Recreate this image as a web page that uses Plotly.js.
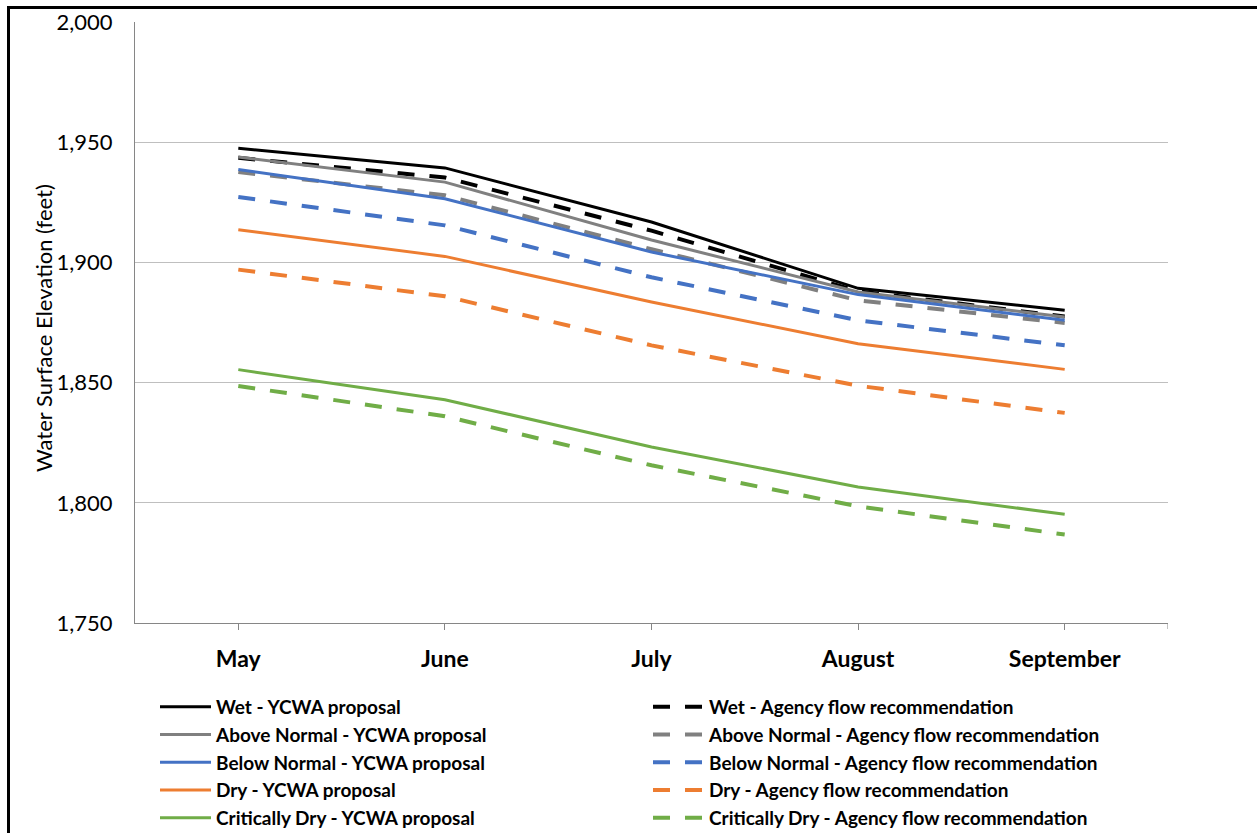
<!DOCTYPE html>
<html>
<head>
<meta charset="utf-8">
<script src="https://cdn.plot.ly/plotly-3.0.1.min.js"></script>
<style>
  html, body { margin: 0; padding: 0; background: #fff; overflow: hidden; }
  #wrap { position: relative; width: 1257px; height: 833px; }
  #chart { position: absolute; left: 0; top: 0; width: 1257px; height: 833px; }
  #frame { position: absolute; left: 7px; top: 6px; width: 1400px; height: 1000px;
           border-left: 3px solid #000; border-top: 3px solid #000; pointer-events: none; }
</style>
</head>
<body>
<div id="wrap"><div id="chart"></div><div id="frame"></div></div>
<script>
const months = ['May', 'June', 'July', 'August', 'September'];
const yAxisTitle = 'Water Surface Elevation (feet)';

const wetYCWA = [1947.5, 1939.3, 1916.8, 1889.2, 1880.1];
const wetAgency = [1943.5, 1935.3, 1913.2, 1888.0, 1877.5];
const aboveNormalYCWA = [1943.8, 1933.4, 1909.3, 1887.7, 1877.3];
const aboveNormalAgency = [1937.6, 1927.9, 1905.5, 1884.2, 1874.8];
const belowNormalYCWA = [1938.6, 1926.5, 1904.3, 1886.6, 1875.9];
const belowNormalAgency = [1927.2, 1915.4, 1893.8, 1875.9, 1865.5];
const dryYCWA = [1913.6, 1902.5, 1883.5, 1866.2, 1855.5];
const dryAgency = [1897.0, 1885.9, 1865.5, 1848.7, 1837.4];
const critDryYCWA = [1855.4, 1842.9, 1823.2, 1806.6, 1795.2];
const critDryAgency = [1848.6, 1836.0, 1815.6, 1798.5, 1786.8];

const seriesNames = [
  'Wet - YCWA proposal', 'Wet - Agency flow recommendation',
  'Above Normal - YCWA proposal', 'Above Normal - Agency flow recommendation',
  'Below Normal - YCWA proposal', 'Below Normal - Agency flow recommendation',
  'Dry - YCWA proposal', 'Dry - Agency flow recommendation',
  'Critically Dry - YCWA proposal', 'Critically Dry - Agency flow recommendation'
];
const seriesValues = [wetYCWA, wetAgency, aboveNormalYCWA, aboveNormalAgency,
  belowNormalYCWA, belowNormalAgency, dryYCWA, dryAgency, critDryYCWA, critDryAgency];
const colors = ['#000000', '#000000', '#808080', '#808080', '#4472C4', '#4472C4',
  '#ED7D31', '#ED7D31', '#70AD47', '#70AD47'];

const traces = seriesNames.map((name, i) => {
  const dashed = i % 2 === 1;
  return {
    type: 'scatter', mode: 'lines', name: name,
    x: months, y: seriesValues[i],
    line: { color: colors[i], width: dashed ? 4 : 3, dash: dashed ? '17px,15px' : 'solid' },
    legend: dashed ? 'legend2' : 'legend',
    hoverinfo: 'x+y+name'
  };
});

const legendFont = { family: 'Lato, sans-serif', size: 19, color: '#000', weight: 'bold' };

const layout = {
  width: 1257, height: 833,
  margin: { l: 135, r: 89, t: 22, b: 210, pad: 0, autoexpand: false },
  paper_bgcolor: '#fff', plot_bgcolor: '#fff',
  showlegend: true,
  xaxis: {
    type: 'category', range: [-0.5, 4.5], automargin: false,
    showline: true, linecolor: '#868686', linewidth: 1,
    ticks: 'outside', ticklen: 6, tickcolor: '#868686', tickwidth: 1,
    showgrid: false, zeroline: false,
    ticklabelstandoff: 9,
    tickfont: { family: 'Lato, sans-serif', size: 23, color: '#000', weight: 'bold' }
  },
  yaxis: {
    range: [1750, 2000], dtick: 50, tick0: 1750, tickformat: ',d', automargin: false,
    showgrid: true, gridcolor: '#BFBFBF', gridwidth: 1,
    showline: true, linecolor: '#868686', linewidth: 1,
    ticks: 'outside', ticklen: 17, tickcolor: 'rgba(0,0,0,0)', zeroline: false,
    tickfont: { family: 'Lato, sans-serif', size: 22, color: '#000' }
  },
  annotations: [
    { text: yAxisTitle, xref: 'paper', yref: 'paper',
      x: (43 - 135) / 1033, y: (623 - 328) / 601, xanchor: 'center', yanchor: 'middle',
      textangle: -90, showarrow: false,
      font: { family: 'Lato, sans-serif', size: 22, color: '#000' } }
  ],
  legend: {
    xref: 'container', yref: 'container',
    x: 155 / 1257, xanchor: 'left', y: 1 - 688 / 833, yanchor: 'top',
    orientation: 'v', bgcolor: 'rgba(0,0,0,0)', borderwidth: 0,
    font: legendFont, itemwidth: 51, traceorder: 'normal'
  },
  legend2: {
    xref: 'container', yref: 'container',
    x: 648 / 1257, xanchor: 'left', y: 1 - 688 / 833, yanchor: 'top',
    orientation: 'v', bgcolor: 'rgba(0,0,0,0)', borderwidth: 0,
    font: legendFont, itemwidth: 51, traceorder: 'normal'
  },
  shapes: [
    { type: 'line', xref: 'x', yref: 'paper', x0: 4.5, x1: 4.5, y0: 0, y1: -6 / 601,
      line: { color: '#868686', width: 1 } }
  ]
};

Plotly.newPlot('chart', traces, layout, { displayModeBar: false, staticPlot: true });
</script>
</body>
</html>
